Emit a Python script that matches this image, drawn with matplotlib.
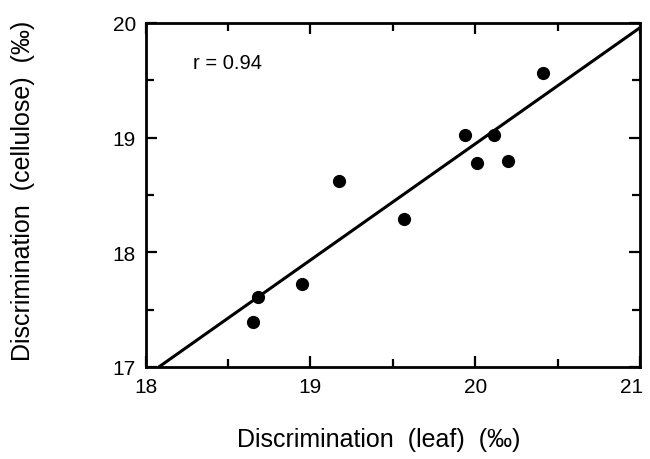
import matplotlib
matplotlib.use("Agg")
import matplotlib.pyplot as plt
import matplotlib.transforms as mtransforms

plt.rcParams['font.family'] = ['Liberation Sans', 'DejaVu Sans']

# leaf vs cellulose discrimination (per mil)
leaf = [18.65, 18.68, 18.95, 19.17, 19.57, 19.94, 20.01, 20.11, 20.20, 20.41]
cellulose = [17.39, 17.61, 17.72, 18.62, 18.29, 19.02, 18.78, 19.02, 18.80, 19.56]

# regression line end points
fit_x = [18.08, 21.0]
fit_y = [17.0, 19.96]

x_ticks = [18, 19, 20, 21]
y_ticks = [17, 18, 19, 20]

fig = plt.figure(figsize=(6.5, 4.6), dpi=100)
ax = fig.add_axes([0.224, 0.2, 0.761, 0.748])

ax.plot(fit_x, fit_y, color='black', lw=2.2, solid_capstyle='butt')
ax.scatter(leaf, cellulose, s=72, color='black', zorder=3)

ax.set_xlim(18, 21)
ax.set_ylim(17, 20)
ax.set_xticks(x_ticks)
ax.set_yticks(y_ticks)
ax.set_xticks([18.5, 19.5, 20.5], minor=True)
ax.set_yticks([17.5, 18.5, 19.5], minor=True)
ax.tick_params(which='both', direction='in', top=True, right=True,
               width=1.6, labelsize=15, pad=7)
ax.tick_params(which='major', length=8)
ax.tick_params(which='minor', length=6)
for s in ax.spines.values():
    s.set_linewidth(2)

# last x label sits a little left so it stays inside the figure
last = ax.get_xticklabels()[-1]
last.set_transform(last.get_transform() + mtransforms.ScaledTranslation(-6 / 72, 0, fig.dpi_scale_trans))

ax.text(0.095, 0.87, 'r = 0.94', transform=ax.transAxes, fontsize=14.5)

fig.text(0.582, 0.043, 'Discrimination  (leaf)  (‰)', ha='center', va='center', fontsize=18)
fig.text(0.036, 0.585, 'Discrimination  (cellulose)  (‰)', ha='center', va='center',
         rotation=90, fontsize=18)

fig.savefig('out.png', dpi=100)
